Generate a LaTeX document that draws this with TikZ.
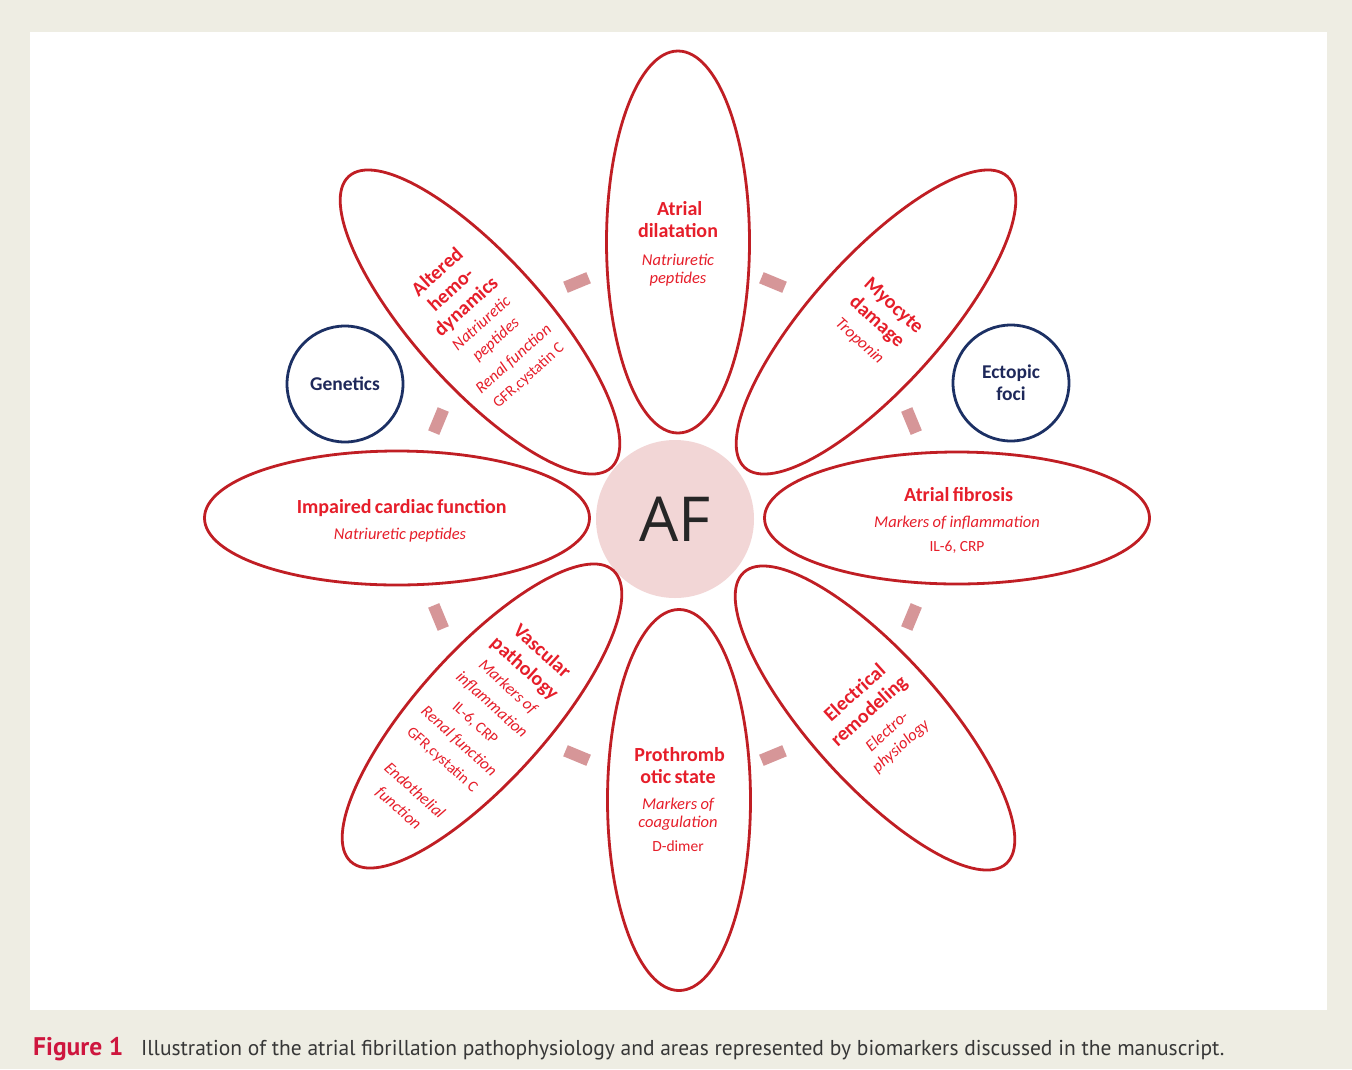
\documentclass[tikz,border=0pt]{standalone}
\usepackage{fontspec}
\setmainfont{Carlito}
\newfontfamily\affont{Open Sans}
\newfontfamily\capfont{PT Sans}
\usetikzlibrary{shapes.geometric,calc}

\definecolor{bgbeige}{RGB}{238,237,227}
\definecolor{petalline}{RGB}{192,30,36}
\definecolor{petaltext}{RGB}{230,30,42}
\definecolor{navyline}{RGB}{28,48,100}
\definecolor{navytext}{RGB}{30,40,90}
\definecolor{afpink}{RGB}{242,214,214}
\definecolor{dashpink}{RGB}{214,150,152}
\definecolor{capred}{RGB}{206,22,62}
\definecolor{capgray}{RGB}{55,55,55}

\newcommand{\PB}[1]{\bfseries\fontsize{20}{#1}\selectfont}
\newcommand{\PI}[1]{\itshape\fontsize{16.5}{#1}\selectfont}
\newcommand{\PR}[1]{\fontsize{15.5}{#1}\selectfont}

\begin{document}
\begin{tikzpicture}[x=1pt,y=-1pt,
  petal/.style={ellipse, draw=petalline, line width=2.8pt, fill=white, inner sep=0pt},
  gene/.style={circle, draw=navyline, line width=2.8pt, fill=white, minimum size=116pt, inner sep=0pt,
    text=navytext, font=\bfseries\fontsize{19.5}{22}\selectfont, align=center},
  ptext/.style={text=petaltext, align=center, text width=#1, inner sep=0pt},
  dashbox/.style={rectangle, fill=dashpink, minimum width=25pt, minimum height=12pt, inner sep=0pt}]

\fill[bgbeige] (0,0) rectangle (1352,1069);
\fill[white] (30,32) rectangle (1327,1010);
\useasboundingbox (0,0) rectangle (1352,1069);

% centre
\node[circle, fill=afpink, minimum size=158pt, inner sep=0pt,
  font=\affont\fontsize{62}{62}\selectfont, text=black!85] (af) at (675,519) {AF};

% dashes between petals
\foreach \a [count=\i] in {22.5,67.5,...,337.5}
  \node[dashbox, rotate=\a+90] (dash\i) at ($(af.center)+(\a:256pt)$) {};

% petals
\node[petal, minimum width=143pt, minimum height=382pt] (pTop) at (678,242) {};
\node[petal, minimum width=143pt, minimum height=381pt] (pBot) at (679,800) {};
\node[petal, minimum width=385pt, minimum height=134pt] (pLeft) at (397,518) {};
\node[petal, minimum width=385pt, minimum height=132pt] (pRight) at (957,518) {};
\node[petal, minimum width=130pt, minimum height=392pt, rotate=42] (pUL) at (480,322) {};
\node[petal, minimum width=130pt, minimum height=392pt, rotate=-42] (pUR) at (876,322) {};
\node[petal, minimum width=130pt, minimum height=392pt, rotate=-42] (pLL) at (482,716) {};
\node[petal, minimum width=130pt, minimum height=392pt, rotate=42] (pLR) at (875,718) {};

% petal texts
\node[ptext=140pt] (tTop) at (678,244)
  {{\PB{22} Atrial\\dilatation\par}\vspace{9pt}{\PI{18.5} Natriuretic\\peptides\par}};
\node[ptext=300pt] (tLeft) at (400,521)
  {{\PB{22} Impaired cardiac function\par}\vspace{7pt}{\PI{19} Natriuretic peptides\par}};
\node[ptext=300pt] (tRight) at (957,520)
  {{\PB{22} Atrial fibrosis\par}\vspace{7pt}{\PI{19} Markers of inflammation\par}\vspace{5pt}{\PR{19} IL-6, CRP\par}};
\node[ptext=140pt] (tBot) at (678,800)
  {{\PB{22} Prothromb\\otic state\par}\vspace{7pt}{\PI{18.5} Markers of\\coagulation\par}\vspace{5pt}{\PR{19} D-dimer\par}};
\node[ptext=180pt, rotate=42] (tUL) at (482,324)
  {{\PB{22.5} Altered\\hemo-\\dynamics\par}{\PI{21.5} Natriuretic\\peptides\par}\vspace{5pt}{\PI{21.5} Renal function\par}{\PR{22} GFR,cystatin C\par}};
\node[ptext=180pt, rotate=-42] (tUR) at (876,323)
  {{\PB{23} Myocyte\\damage\par}{\PI{25} Troponin\par}};
\node[ptext=180pt, rotate=-42] (tLL) at (470,729)
  {{\PB{24} Vascular\\pathology\par}{\PI{24} Markers of\\inflammation\par}{\PR{24.5} IL-6, CRP\par}{\PI{24.5} Renal function\par}{\PR{24.5} GFR,cystatin C\par}\vspace{18pt}{\PI{24} Endothelial\\function\par}};
\node[ptext=180pt, rotate=42] (tLR) at (877,720)
  {{\PB{23} Electrical\\remodeling\par}\vspace{6pt}{\PI{20} Electro-\\physiology\par}};

% navy circles
\node[gene] (genetics) at (345,384) {Genetics};
\node[gene] (ectopic) at (1011,383) {Ectopic\\foci};

% caption
\node[anchor=base west, inner sep=0pt, font=\capfont\bfseries\fontsize{25.5}{28}\selectfont, text=capred]
  (figlab) at (33,1055) {Figure 1};
\node[anchor=base west, inner sep=0pt, font=\capfont\fontsize{21.5}{25}\selectfont, text=capgray]
  (captxt) at (141,1055) {Illustration of the atrial fibrillation pathophysiology and areas represented by biomarkers discussed in the manuscript.};
\end{tikzpicture}
\end{document}
